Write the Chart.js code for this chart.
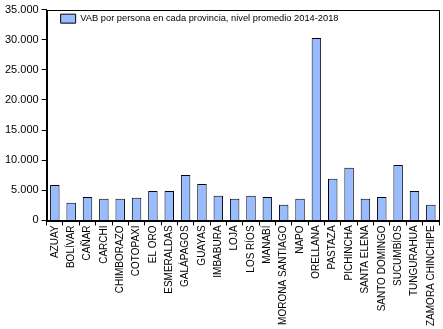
<!DOCTYPE html>
<html>
<head>
<meta charset="utf-8">
<script src="https://cdn.jsdelivr.net/npm/chart.js@4/dist/chart.umd.min.js"></script>
<style>
  html, body { margin: 0; padding: 0; background: #fff; }
  #wrap { width: 443px; height: 329px; }
</style>
</head>
<body>
<div id="wrap"><canvas id="chart"></canvas></div>
<script>
const provincias = [
  "AZUAY", "BOLÍVAR", "CAÑAR", "CARCHI", "CHIMBORAZO", "COTOPAXI", "EL ORO",
  "ESMERALDAS", "GALÁPAGOS", "GUAYAS", "IMBABURA", "LOJA", "LOS RÍOS", "MANABÍ",
  "MORONA SANTIAGO", "NAPO", "ORELLANA", "PASTAZA", "PICHINCHA", "SANTA ELENA",
  "SANTO DOMINGO", "SUCUMBÍOS", "TUNGURAHUA", "ZAMORA CHINCHIPE"
];
const vabPorPersona = [
  5900, 2950, 3900, 3600, 3600, 3750, 4900,
  4900, 7550, 6050, 4100, 3600, 4100, 3900,
  2600, 3600, 30300, 6900, 8750, 3600,
  3900, 9200, 4900, 2600
];
const serieNombre = "VAB por persona en cada provincia, nivel promedio 2014-2018";

const frame = {
  id: "frame",
  afterDraw(chart) {
    const { ctx, chartArea: a } = chart;
    ctx.save();
    ctx.strokeStyle = "#000";
    ctx.lineWidth = 1;
    ctx.strokeRect(Math.round(a.left) + 0.5, Math.round(a.top) + 0.5,
      Math.round(a.right - a.left), Math.round(a.bottom - a.top));
    ctx.restore();
  }
};

const fmt = (v) => v.toString().replace(/\B(?=(\d{3})+(?!\d))/g, ".");

new Chart(document.getElementById("chart").getContext("2d"), {
  type: "bar",
  data: {
    labels: provincias,
    datasets: [{
      label: serieNombre,
      data: vabPorPersona,
      backgroundColor: "#99BBFF",
      borderColor: "#000",
      borderWidth: 1,
      barPercentage: 0.58,
      categoryPercentage: 1.0
    }]
  },
  options: {
    responsive: true,
    maintainAspectRatio: false,
    animation: false,
    layout: { padding: { left: 2, right: 4, top: 2, bottom: 3 } },
    plugins: {
      legend: {
        position: "chartArea",
        align: "start",
        labels: {
          boxWidth: 15,
          boxHeight: 9,
          padding: 14,
          color: "#000",
          font: { family: "Liberation Sans, Arial", size: 9.3 }
        }
      },
      tooltip: { enabled: false }
    },
    scales: {
      x: {
        grid: { drawOnChartArea: false, drawTicks: true, tickLength: 5, color: "#000" },
        border: { color: "#000" },
        ticks: {
          autoSkip: false,
          maxRotation: 90,
          minRotation: 90,
          padding: 0,
          color: "#000",
          font: { family: "Liberation Sans, Arial", size: 10 }
        }
      },
      y: {
        min: 0,
        max: 35000,
        grid: { drawOnChartArea: false, drawTicks: true, tickLength: 5, color: "#000" },
        border: { color: "#000" },
        ticks: {
          stepSize: 5000,
          padding: 3,
          color: "#000",
          font: { family: "Liberation Sans, Arial", size: 11 },
          callback: (v) => fmt(v)
        }
      }
    }
  },
  plugins: [frame]
});
</script>
</body>
</html>
